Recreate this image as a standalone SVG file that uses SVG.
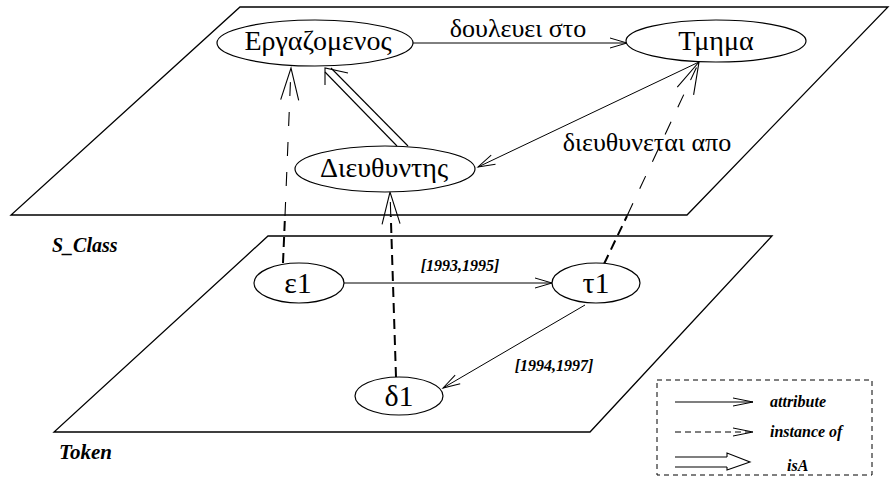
<svg xmlns="http://www.w3.org/2000/svg" width="890" height="487" viewBox="0 0 890 487">
  <style>
    .plane { fill: none; stroke: #000; stroke-width: 1.3; }
    .node ellipse { fill: #fff; stroke: #000; stroke-width: 1.2; }
    .node text { font-family: "Liberation Serif", "DejaVu Serif", serif; fill: #000; text-anchor: middle; }
    .attr { fill: none; stroke: #000; stroke-width: 1; marker-end: url(#open); }
    .inst-up { fill: none; stroke: #000; stroke-width: 1.1; stroke-dasharray: 14 16; }
    .inst-lo { fill: none; stroke: #000; stroke-width: 2; stroke-dasharray: 10 6; }
    .isa { fill: none; stroke: #000; stroke-width: 1.1; }
    .lbl { font-family: "Liberation Serif", "DejaVu Serif", serif; fill: #000; text-anchor: middle; }
    .tag { font-family: "Liberation Serif", serif; font-weight: bold; font-style: italic; fill: #000; }
  </style>
  <defs>
    <marker id="open" markerUnits="userSpaceOnUse" markerWidth="20" markerHeight="12" refX="17" refY="5" orient="auto" overflow="visible">
      <path d="M0,0 L17,5 L0,10" fill="none" stroke="#000" stroke-width="1"/>
    </marker>
    <marker id="inst" markerUnits="userSpaceOnUse" markerWidth="34" markerHeight="20" refX="32" refY="9" orient="auto" overflow="visible">
      <path d="M0,0 L32,9 L0,18" fill="none" stroke="#000" stroke-width="1.1" stroke-dasharray="none"/>
    </marker>
  </defs>

  <!-- class level plane and token level plane -->
  <g id="planes">
    <polygon class="plane" points="240,7 888,7 687,215 11,215"/>
    <polygon class="plane" points="268,236 772,236 590,432 54,432"/>
    <text class="tag" x="52" y="252" font-size="20">S_Class</text>
    <text class="tag" x="59" y="459" font-size="21">Token</text>
  </g>

  <!-- connectors -->
  <g id="connectors">
    <!-- attributes -->
    <path class="attr" d="M413,43 L627,43"/>
    <text class="lbl" x="518" y="37" font-size="26">δουλευει στο</text>
    <path class="attr" d="M699,62 L478,167"/>
    <text class="lbl" x="647" y="151" font-size="26">διευθυνεται απο</text>
    <path class="attr" d="M343,283 L552,283"/>
    <text class="tag" x="460" y="271" font-size="16" text-anchor="middle">[1993,1995]</text>
    <path class="attr" d="M585,305 L443,388"/>
    <text class="tag" x="554" y="371" font-size="16" text-anchor="middle">[1994,1997]</text>

    <!-- instance of -->
    <path class="inst-lo" d="M283,263 L285,216"/>
    <path class="inst-up" d="M285,216 L291,68" marker-end="url(#inst)"/>
    <path class="inst-lo" d="M396,377 L390.8,216"/>
    <path class="inst-up" d="M390.8,216 L390,192" marker-end="url(#inst)"/>
    <path class="inst-lo" d="M604,264 L627,216"/>
    <path class="inst-up" d="M627,216 L699,62" marker-end="url(#inst)"/>

    <!-- isA -->
    <path class="isa" d="M397,146 L325,72"/>
    <path class="isa" d="M408,146 L331,68"/>
    <path class="isa" d="M325,85 L325,68 L348,73"/>
  </g>

  <!-- nodes -->
  <g id="n-ergazomenos" class="node">
    <ellipse cx="315" cy="43" rx="98" ry="23"/>
    <text x="318" y="50" font-size="28">Εργαζομενος</text>
  </g>
  <g id="n-tmima" class="node">
    <ellipse cx="716" cy="41" rx="90" ry="21"/>
    <text x="716" y="50" font-size="28">Τμημα</text>
  </g>
  <g id="n-dieuthyntis" class="node">
    <ellipse cx="385" cy="169" rx="90" ry="23"/>
    <text x="384" y="177" font-size="28">Διευθυντης</text>
  </g>
  <g id="n-e1" class="node">
    <ellipse cx="299" cy="283" rx="45" ry="20"/>
    <text x="298" y="293" font-size="30">ε1</text>
  </g>
  <g id="n-t1" class="node">
    <ellipse cx="596" cy="283" rx="44" ry="20"/>
    <text x="596" y="293" font-size="30">τ1</text>
  </g>
  <g id="n-d1" class="node">
    <ellipse cx="399" cy="396" rx="44" ry="19"/>
    <text x="399" y="406" font-size="30">δ1</text>
  </g>

  <!-- legend -->
  <g id="legend">
    <rect x="657" y="380" width="215" height="95" fill="none" stroke="#000" stroke-width="1" stroke-dasharray="5 4"/>
    <path d="M675,402 L753,402" fill="none" stroke="#000" stroke-width="1.1"/>
    <path d="M733,398 L753,402 L733,406" fill="none" stroke="#000" stroke-width="1"/>
    <text class="tag" x="770" y="407" font-size="16">attribute</text>
    <path d="M675,432 L753,432" fill="none" stroke="#000" stroke-width="1.1" stroke-dasharray="6 4"/>
    <path d="M733,428 L753,432 L733,436" fill="none" stroke="#000" stroke-width="1"/>
    <text class="tag" x="770" y="437" font-size="16">instance of</text>
    <path d="M675,457 L727,457 M675,467 L727,467" fill="none" stroke="#000" stroke-width="1.2"/>
    <path d="M727,457 L727,453 L750,462 L727,470 L727,467" fill="none" stroke="#000" stroke-width="1.1"/>
    <text class="tag" x="787" y="471" font-size="16">isA</text>
  </g>
</svg>
